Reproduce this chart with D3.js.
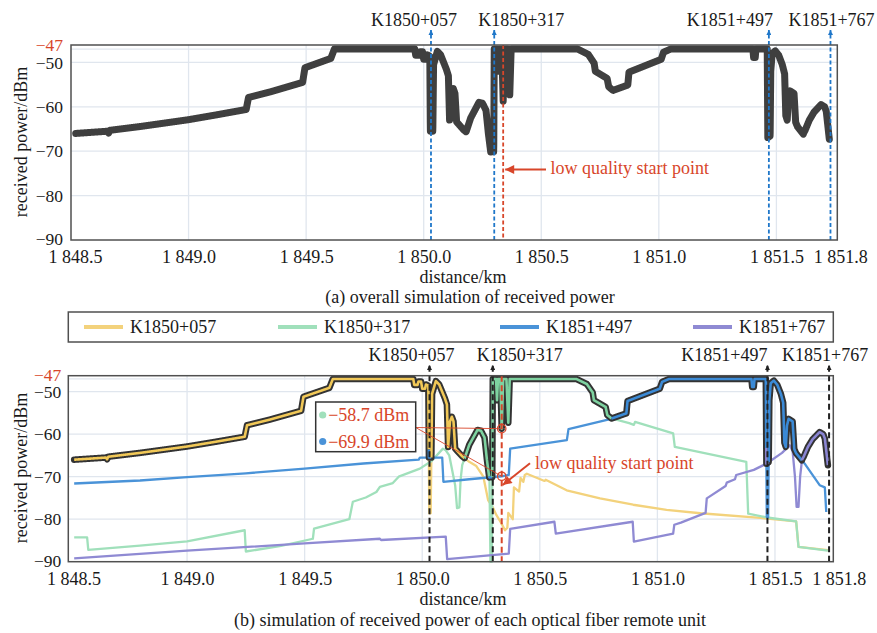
<!DOCTYPE html>
<html>
<head>
<meta charset="utf-8">
<script src="https://cdn.jsdelivr.net/npm/d3@7"></script>
<style>
  body { margin: 0; background: #fff; }
  text { font-family: "Liberation Serif", "Times New Roman", serif; }
</style>
</head>
<body>
<svg id="chart" width="877" height="633"></svg>
<script>
// ---- data -------------------------------------------------------------
const seriesNames = ["K1850+057", "K1850+317", "K1851+497", "K1851+767"];

// received power [km, dBm] from each remote unit
const powerK1850_057 = [
  [1848.52,-66.0],[1848.655,-65.5],[1848.66,-65.9],[1848.665,-65.3],[1848.8,-64.4],[1849.0,-62.9],
  [1849.12,-61.8],[1849.245,-60.6],[1849.255,-57.9],[1849.35,-56.6],[1849.485,-54.5],[1849.495,-51.2],
  [1849.605,-49.1],[1849.62,-47.0],[1849.962,-47.0],[1849.966,-48.4],[1849.98,-48.4],[1849.984,-47.6],
  [1849.995,-47.6],[1850.0,-49.3],[1850.012,-49.3],[1850.016,-48.3],[1850.026,-48.6],[1850.03,-78.6],
  [1850.036,-78.6],[1850.042,-50.5],[1850.058,-47.5],[1850.072,-48.3],[1850.096,-51.5],[1850.105,-53.0],
  [1850.11,-63.0],[1850.118,-57.0],[1850.126,-55.9],[1850.133,-57.0],[1850.14,-63.4],[1850.17,-65.2],
  [1850.2,-66.5],[1850.23,-67.5],[1850.26,-70.0],[1850.28,-75.5],[1850.3,-77.2],[1850.315,-79.0],
  [1850.335,-80.8],[1850.352,-82.6],[1850.362,-82.0],[1850.366,-78.5],[1850.385,-80.0],[1850.39,-72.5],
  [1850.412,-73.5],[1850.418,-70.3],[1850.43,-71.2],[1850.436,-69.6],[1850.445,-69.3],[1850.52,-71.0],
  [1850.525,-70.7],[1850.614,-73.2],[1850.756,-75.1],[1850.897,-76.6],[1851.039,-77.8],[1851.183,-78.6],
  [1851.438,-79.7],[1851.59,-80.5],[1851.6,-86.5],[1851.725,-87.3]
];
const powerK1850_317 = [
  [1848.52,-84.3],[1848.575,-84.3],[1848.58,-87.2],[1848.8,-86.2],[1849.0,-85.2],[1849.245,-82.6],
  [1849.25,-87.6],[1849.4,-86.3],[1849.535,-84.6],[1849.54,-82.2],[1849.69,-80.0],[1849.705,-75.9],
  [1849.76,-74.9],[1849.805,-73.6],[1849.82,-72.4],[1849.875,-71.5],[1849.9,-70.0],[1849.99,-68.1],
  [1850.04,-66.3],[1850.088,-63.4],[1850.1,-63.8],[1850.115,-65.0],[1850.14,-72.0],[1850.148,-77.4],
  [1850.158,-77.2],[1850.163,-70.8],[1850.17,-67.3],[1850.2,-62.5],[1850.235,-59.0],[1850.25,-59.2],
  [1850.265,-60.8],[1850.275,-66.0],[1850.286,-70.6],[1850.29,-90.0],[1850.296,-90.0],[1850.3,-47.0],
  [1850.314,-47.0],[1850.318,-52.0],[1850.322,-47.0],[1850.332,-47.0],[1850.338,-58.7],[1850.344,-47.0],
  [1850.358,-47.0],[1850.366,-57.3],[1850.372,-47.0],[1850.655,-47.0],[1850.7,-48.2],[1850.725,-50.2],
  [1850.73,-52.0],[1850.78,-53.6],[1850.787,-55.5],[1850.805,-56.3],[1850.88,-57.4],[1850.9,-57.8],
  [1850.905,-57.1],[1851.067,-59.8],[1851.074,-63.0],[1851.378,-66.5],[1851.386,-78.7],[1851.466,-79.6],
  [1851.59,-80.5],[1851.6,-86.5],[1851.725,-87.4]
];
const powerK1851_497 = [
  [1848.52,-71.6],[1848.8,-70.9],[1849.0,-70.1],[1849.25,-69.2],[1849.5,-68.1],[1849.75,-66.9],
  [1849.985,-66.0],[1849.99,-65.5],[1850.085,-65.5],[1850.09,-71.2],[1850.2,-70.6],[1850.338,-69.9],
  [1850.368,-69.6],[1850.374,-63.4],[1850.615,-61.4],[1850.622,-58.8],[1850.79,-56.6],[1850.868,-55.1],
  [1850.873,-52.2],[1851.01,-49.3],[1851.02,-47.7],[1851.05,-47.0],[1851.4,-47.0],[1851.403,-48.9],
  [1851.41,-48.9],[1851.413,-47.0],[1851.461,-47.0],[1851.465,-79.5],[1851.471,-79.5],[1851.476,-52.0],
  [1851.482,-48.0],[1851.495,-47.4],[1851.51,-48.4],[1851.525,-50.5],[1851.535,-52.6],[1851.54,-62.0],
  [1851.546,-63.0],[1851.551,-58.0],[1851.558,-56.4],[1851.575,-57.0],[1851.582,-63.5],[1851.59,-64.5],
  [1851.63,-67.2],[1851.69,-72.0],[1851.712,-72.5],[1851.718,-78.3]
];
const powerK1851_767 = [
  [1848.52,-89.2],[1849.0,-87.4],[1849.5,-85.7],[1849.82,-84.6],[1849.825,-84.9],[1850.1,-84.1],
  [1850.106,-89.4],[1850.368,-88.1],[1850.374,-82.3],[1850.562,-80.6],[1850.568,-83.4],[1850.895,-80.6],
  [1850.9,-85.3],[1851.067,-83.4],[1851.072,-81.3],[1851.1,-80.8],[1851.205,-78.5],[1851.21,-75.1],
  [1851.29,-72.2],[1851.295,-71.4],[1851.33,-70.6],[1851.335,-69.6],[1851.41,-68.4],[1851.465,-66.9],
  [1851.53,-64.4],[1851.563,-62.6],[1851.575,-64.0],[1851.585,-70.0],[1851.592,-77.1],[1851.6,-77.1],
  [1851.607,-70.0],[1851.615,-66.0],[1851.622,-65.3],[1851.64,-63.0],[1851.66,-61.2],[1851.69,-59.5],
  [1851.705,-60.0],[1851.712,-61.0],[1851.725,-67.3]
];

const xTicks = [1848.5, 1849.0, 1849.5, 1850.0, 1850.5, 1851.0, 1851.5, 1851.75];
const xTickLabels = ["1 848.5", "1 849.0", "1 849.5", "1 850.0", "1 850.5", "1 851.0", "1 851.5", "1 851.8"];
const yTicks = [-90, -80, -70, -60, -50, -47];

const stationNames = ["K1850+057", "K1850+317", "K1851+497", "K1851+767"];
const stationKm = [1850.031, 1850.300, 1851.468, 1851.730];
const lowQualityKm = 1850.338;
const markedValues = [-58.7, -69.9];        // K1850+317 and K1851+497 at the low quality start point
const markedSeries = [1, 2];

// ---- styles -----------------------------------------------------------
const thinColors = ["#f3d27c", "#a0e0bb", "#4a93d8", "#8f8ad3"];
const coreColors = ["#f1c857", "#7ed2a0", "#3b8ad6", "#8a85d2"];
const red = "#d8462a";
const gridColor = "#e0e6ee";
const frameColor = "#505050";

// ---- envelope (strongest received signal) -----------------------------
const allSeries = [powerK1850_057, powerK1850_317, powerK1851_497, powerK1851_767];
const bis = d3.bisector(d => d[0]).right;
function valueAt(pts, x) {
  const n = pts.length;
  if (x < pts[0][0] - 1e-9 || x > pts[n - 1][0] + 1e-9) return -Infinity;
  const i = bis(pts, x);
  if (i <= 0) return pts[0][1];
  if (i >= n) return pts[n - 1][1];
  const a = pts[i - 1], b = pts[i];
  return a[1] + (b[1] - a[1]) * (x - a[0]) / (b[0] - a[0]);
}
const xsSet = new Set();
allSeries.forEach(s => s.forEach(p => xsSet.add(+p[0].toFixed(4))));
const xStart = d3.min(allSeries, s => s[0][0]);
const xEnd = d3.max(allSeries, s => s[s.length - 1][0]);
d3.range(xStart, xEnd, 0.0005).forEach(x => xsSet.add(+x.toFixed(4)));
const xsGrid = Array.from(xsSet).sort((a, b) => a - b);
const envelope = xsGrid.map(x => {
  let best = -Infinity, k = -1;
  allSeries.forEach((s, i) => { const v = valueAt(s, x); if (v > best + 1e-9) { best = v; k = i; } });
  return { x, y: best, k };
});
const envSegments = [];
let curSeg = null;
envelope.forEach(p => {
  if (!curSeg || curSeg.k !== p.k) {
    const prev = curSeg ? curSeg.pts[curSeg.pts.length - 1] : null;
    curSeg = { k: p.k, pts: prev ? [prev] : [] };
    envSegments.push(curSeg);
  }
  curSeg.pts.push(p);
});

// ---- drawing ----------------------------------------------------------
const svg = d3.select("#chart");
const defs = svg.append("defs");
function arrowMarker(id, color, w, h) {
  defs.append("marker").attr("id", id).attr("viewBox", "0 0 10 10")
    .attr("refX", 10).attr("refY", 5).attr("markerUnits", "userSpaceOnUse")
    .attr("markerWidth", w).attr("markerHeight", h).attr("orient", "auto")
    .append("path").attr("d", "M0,0 L10,5 L0,10 Z").attr("fill", color);
}
arrowMarker("arrBlue", "#1f77c9", 7, 5);
arrowMarker("arrBlack", "#222", 7, 5);
arrowMarker("arrRed", red, 11, 9);

function panel(cfg) {
  const x = d3.scaleLinear().domain(cfg.xDomain).range([cfg.left, cfg.right]);
  const y = d3.scaleLinear().domain(cfg.yDomain).range([cfg.bottom, cfg.top]);
  const g = svg.append("g");

  // grid
  g.append("g").selectAll("line").data(xTicks.slice(1, -1)).join("line")
    .attr("x1", d => x(d)).attr("x2", d => x(d)).attr("y1", cfg.top).attr("y2", cfg.bottom)
    .attr("stroke", gridColor).attr("stroke-width", 1.3);
  g.append("g").selectAll("line").data(yTicks.slice(1)).join("line")
    .attr("x1", cfg.left).attr("x2", cfg.right).attr("y1", d => y(d)).attr("y2", d => y(d))
    .attr("stroke", gridColor).attr("stroke-width", 1.3);

  // axes
  const xAxis = g.append("g").attr("transform", `translate(0,${cfg.bottom})`)
    .call(d3.axisBottom(x).tickValues(xTicks).tickSize(0).tickPadding(cfg.xPad)
      .tickFormat((d, i) => xTickLabels[i]));
  const yAxis = g.append("g").attr("transform", `translate(${cfg.left},0)`)
    .call(d3.axisLeft(y).tickValues(yTicks).tickSize(0).tickPadding(cfg.yPad).tickFormat(d3.format("d")));
  [xAxis, yAxis].forEach(a => {
    a.select(".domain").remove();
    a.selectAll("text").attr("font-family", "Liberation Serif").attr("fill", "#1a1a1a");
  });
  xAxis.selectAll("text").attr("font-size", 18);
  yAxis.selectAll("text").attr("font-size", 17.5);
  xAxis.selectAll(".tick text").attr("dx", (d, i) => i === xTicks.length - 1 ? 5 : (i === 0 ? 4 : 0));
  yAxis.selectAll(".tick").filter(d => d === -47).select("text").attr("fill", red).attr("dy", "0.08em");
  yAxis.selectAll(".tick").filter(d => d === -90).select("text").attr("dy", "0.25em");

  g.append("text").attr("x", cfg.xLabelX).attr("y", cfg.xLabelY).attr("text-anchor", "middle")
    .attr("font-size", 18).attr("fill", "#1a1a1a").text("distance/km");
  g.append("text").attr("transform", `translate(27,${cfg.yLabelMid}) rotate(-90)`).attr("text-anchor", "middle")
    .attr("font-size", 18).attr("fill", "#1a1a1a").text("received power/dBm");
  g.append("text").attr("x", 470).attr("y", cfg.captionY).attr("text-anchor", "middle")
    .attr("font-size", 18).attr("fill", "#1a1a1a").text(cfg.caption);

  return { x, y, g };
}

// ---------- (a) overall received power ----------
const A = panel({
  left: 71, right: 837.3, top: 45, bottom: 240,
  xDomain: [1848.5, 1851.759], yDomain: [-90, -46.08],
  xPad: 10, yPad: 8, xLabelX: 463, xLabelY: 283, yLabelMid: 142, captionY: 303,
  caption: "(a) overall simulation of received power"
});
const lineA = d3.line().x(d => A.x(d.x)).y(d => A.y(d.y));
A.g.append("path").datum(envelope).attr("d", lineA).attr("fill", "none")
  .attr("stroke", "#3f3f3f").attr("stroke-width", 7).attr("stroke-linejoin", "round").attr("stroke-linecap", "round");

// station markers
stationKm.forEach((km, i) => {
  A.g.append("line").attr("x1", A.x(km)).attr("x2", A.x(km)).attr("y1", 240).attr("y2", 30)
    .attr("stroke", "#1f77c9").attr("stroke-width", 1.8).attr("stroke-dasharray", "4,2.5")
    .attr("marker-end", "url(#arrBlue)");
});
const labelShiftA = [-17, 27, -39, 1];
stationNames.forEach((name, i) => {
  A.g.append("text").attr("x", A.x(stationKm[i]) + labelShiftA[i]).attr("y", 26).attr("text-anchor", "middle")
    .attr("font-size", 18).attr("fill", "#1a1a1a").text(name);
});
A.g.append("line").attr("x1", A.x(lowQualityKm)).attr("x2", A.x(lowQualityKm)).attr("y1", 45).attr("y2", 240)
  .attr("stroke", red).attr("stroke-width", 1.8).attr("stroke-dasharray", "4,2.5");
A.g.append("line").attr("x1", 546).attr("x2", A.x(lowQualityKm) + 2).attr("y1", 169.5).attr("y2", 169.5)
  .attr("stroke", red).attr("stroke-width", 2).attr("marker-end", "url(#arrRed)");
A.g.append("text").attr("x", 550.5).attr("y", 174).attr("font-size", 18).attr("fill", red).text("low quality start point");
A.g.append("rect").attr("x", 71).attr("y", 45).attr("width", 837.3 - 71).attr("height", 195)
  .attr("fill", "none").attr("stroke", frameColor).attr("stroke-width", 1.5);

// ---------- (b) received power of each remote unit ----------
const B = panel({
  left: 68.3, right: 833.3, top: 375.7, bottom: 561.7,
  xDomain: [1848.495, 1851.748], yDomain: [-90, -46.24],
  xPad: 11, yPad: 7, xLabelX: 463, xLabelY: 605, yLabelMid: 468, captionY: 626,
  caption: "(b) simulation of received power of each optical fiber remote unit"
});
const lineB = d3.line().x(d => B.x(d[0])).y(d => B.y(d[1]));
allSeries.forEach((s, i) => {
  B.g.append("path").datum(s).attr("d", lineB).attr("fill", "none")
    .attr("stroke", thinColors[i]).attr("stroke-width", 2.3).attr("stroke-linejoin", "round");
});
const envLineB = d3.line().x(d => B.x(d.x)).y(d => B.y(d.y));
B.g.append("path").datum(envelope).attr("d", envLineB).attr("fill", "none")
  .attr("stroke", "#333").attr("stroke-width", 6.5).attr("stroke-linejoin", "round").attr("stroke-linecap", "round");
envSegments.forEach(seg => {
  B.g.append("path").datum(seg.pts).attr("d", envLineB).attr("fill", "none")
    .attr("stroke", coreColors[seg.k]).attr("stroke-width", 2.6).attr("stroke-linejoin", "round");
});

stationKm.forEach(km => {
  B.g.append("line").attr("x1", B.x(km)).attr("x2", B.x(km)).attr("y1", 561.7).attr("y2", 365)
    .attr("stroke", "#222").attr("stroke-width", 2).attr("stroke-dasharray", "6,3.5")
    .attr("marker-end", "url(#arrBlack)");
});
const labelShiftB = [-18, 27, -43, -4];
stationNames.forEach((name, i) => {
  B.g.append("text").attr("x", B.x(stationKm[i]) + labelShiftB[i]).attr("y", 361).attr("text-anchor", "middle")
    .attr("font-size", 18).attr("fill", "#1a1a1a").text(name);
});
B.g.append("line").attr("x1", B.x(lowQualityKm)).attr("x2", B.x(lowQualityKm)).attr("y1", 375.7).attr("y2", 561.7)
  .attr("stroke", red).attr("stroke-width", 2).attr("stroke-dasharray", "6,3.5");

// value callouts at the low quality start point
const boxX = 315.7, boxY = 402, boxW = 100, boxH = 49.7;
markedValues.forEach(v => {
  B.g.append("line").attr("x1", boxX + boxW).attr("y1", 427.5).attr("x2", B.x(lowQualityKm)).attr("y2", B.y(v))
    .attr("stroke", red).attr("stroke-width", 0.9);
  B.g.append("circle").attr("cx", B.x(lowQualityKm)).attr("cy", B.y(v)).attr("r", 4.2)
    .attr("fill", "none").attr("stroke", red).attr("stroke-width", 1.3);
});
B.g.append("rect").attr("x", boxX).attr("y", boxY).attr("width", boxW).attr("height", boxH)
  .attr("fill", "#fff").attr("stroke", "#333").attr("stroke-width", 1.5);
markedValues.forEach((v, i) => {
  const cy = boxY + 13 + i * 26.5;
  B.g.append("circle").attr("cx", boxX + 7).attr("cy", cy).attr("r", 3.6).attr("fill", thinColors[markedSeries[i]]);
  B.g.append("text").attr("x", boxX + 12.5).attr("y", cy + 6).attr("font-size", 18).attr("fill", red)
    .text(d3.format(".1f")(v) + " dBm");
});

B.g.append("line").attr("x1", 530).attr("y1", 463.3).attr("x2", B.x(lowQualityKm) + 1).attr("y2", 485)
  .attr("stroke", red).attr("stroke-width", 2).attr("marker-end", "url(#arrRed)");
B.g.append("text").attr("x", 535).attr("y", 469).attr("font-size", 18).attr("fill", red).text("low quality start point");

B.g.append("rect").attr("x", 68.3).attr("y", 375.7).attr("width", 833.3 - 68.3).attr("height", 186)
  .attr("fill", "none").attr("stroke", frameColor).attr("stroke-width", 1.5);

// legend
const legend = svg.append("g");
legend.append("rect").attr("x", 68.3).attr("y", 312).attr("width", 833.3 - 68.3).attr("height", 30)
  .attr("fill", "#fff").attr("stroke", frameColor).attr("stroke-width", 1.5);
const legendX = [84, 278, 500, 693];
seriesNames.forEach((name, i) => {
  legend.append("line").attr("x1", legendX[i]).attr("x2", legendX[i] + 39).attr("y1", 327).attr("y2", 327)
    .attr("stroke", thinColors[i]).attr("stroke-width", 4);
  legend.append("text").attr("x", legendX[i] + 46).attr("y", 333).attr("font-size", 18).attr("fill", "#1a1a1a").text(name);
});
</script>
</body>
</html>
